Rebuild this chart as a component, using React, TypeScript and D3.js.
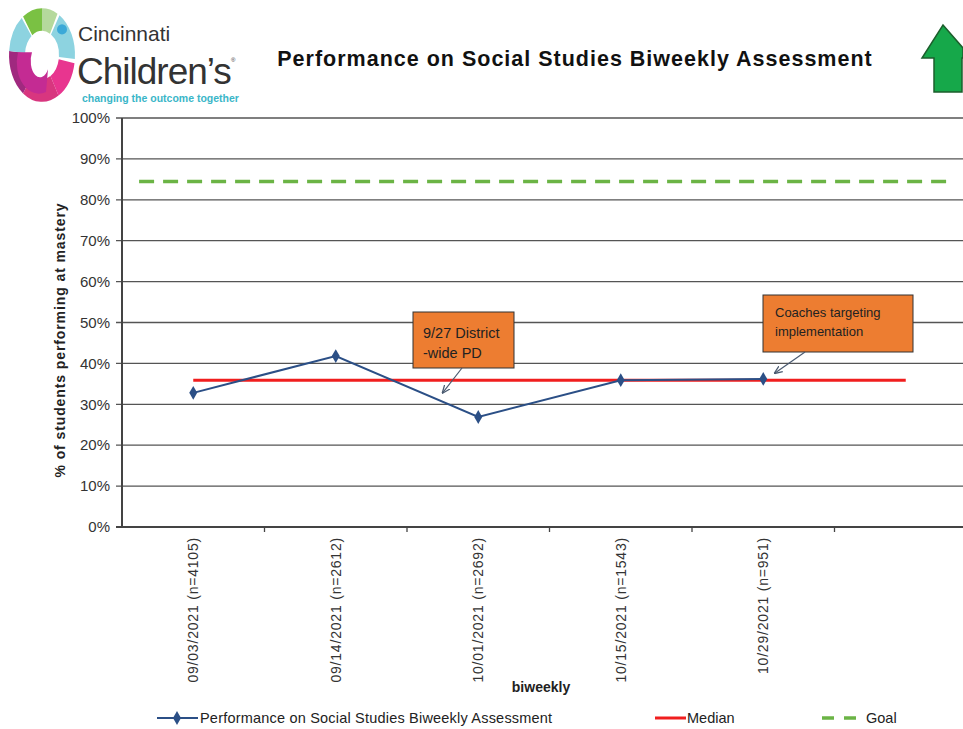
import * as d3 from "d3";

const categories = [
  "09/03/2021 (n=4105)",
  "09/14/2021 (n=2612)",
  "10/01/2021 (n=2692)",
  "10/15/2021 (n=1543)",
  "10/29/2021 (n=951)",
  "",
];
const performance = [32.8, 41.8, 26.9, 35.9, 36.2];
const median = 35.9;
const goal = 84.5;
// median and goal lines span these positions (in category steps from the first one)
const medianSpan = [0, 5];
const goalSpan = [-0.38, 5.34];
const yTicks = [0, 10, 20, 30, 40, 50, 60, 70, 80, 90, 100];
const notes = [
  { lines: ["9/27 District", "-wide PD"], at: 1.75, value: 32.8, box: [413, 312, 101, 56] },
  { lines: ["Coaches targeting", "implementation"], at: 4.08, value: 37.6, box: [763, 295, 150, 57] },
];

const W = 963;
const H = 729;
const marginLeft = 122;
const plotRight = 977;
const plotTop = 118;
const plotBottom = 527;

const navy = "#2B4F86";
const red = "#F01E1E";
const green = "#6BB445";
const orange = "#ED7D31";

// logo ring pieces: [startDeg, endDeg, colour]
const logoPieces: [number, number, string][] = [
  [-35, 0, "#7AC143"],
  [0, 28, "#B5D99C"],
  [32, 95, "#8DD3E0"],
  [100, 150, "#E8358F"],
  [150, 215, "#D8367F"],
  [215, 275, "#A0297F"],
  [275, 322, "#8DD3E0"],
];

export default function App() {
  const x = d3.scaleBand<string>().domain(categories).range([marginLeft, plotRight]);
  const y = d3.scaleLinear().domain([0, 100]).range([plotBottom, plotTop]);
  const cx = (i: number) => (x(categories[0]) as number) + x.bandwidth() / 2 + i * x.step();
  const line = d3.line<number>((d, i) => cx(i), (d) => y(d));
  const diamond = d3.symbol(d3.symbolDiamond, 55)();
  const ring = d3.arc<[number, number, string]>()
    .innerRadius(17)
    .outerRadius(33)
    .startAngle((d) => (d[0] * Math.PI) / 180)
    .endAngle((d) => (d[1] * Math.PI) / 180);

  return (
    <svg width={W} height={H} style={{ position: "absolute", left: 0, top: 0, background: "#fff" }}
      fontFamily="Liberation Sans, Arial, sans-serif">
      {/* logo */}
      <g transform="translate(42,55) scale(1,1.42)">
        {logoPieces.map((p, i) => (
          <path key={i} d={ring(p) as string} fill={p[2]} />
        ))}
        <path d="M-24,-2 A22,22 0 0 0 4,26 L6,10 A8,10 0 0 1 -10,-2 Z" fill="#C42B93" />
        <ellipse cx={20} cy={-18} rx={5} ry={3.6} fill="#3BA9D8" />
      </g>
      <text x={78} y={41} fontSize={21} fill="#333">Cincinnati</text>
      <text x={77} y={84} fontSize={37} fill="#333" letterSpacing={-1}>Children’s</text>
      <text x={231} y={62} fontSize={6} fill="#333">®</text>
      <text x={82} y={102} fontSize={10.5} fontWeight="bold" fill="#3AB6C8">changing the outcome together</text>

      <text x={575} y={66} textAnchor="middle" fontSize={21.5} letterSpacing={1} fontWeight="bold" fill="#111">
        Performance on Social Studies Biweekly  Assessment
      </text>

      {/* up arrow */}
      <path d="M943,25 L963,48 L963,58 L962,58 L962,92 L934,92 L934,58 L922,58 Z"
        fill="#16A84A" stroke="#1C5E2C" strokeWidth={1.5} />

      {/* grid + y axis */}
      {yTicks.map((t) => (
        <g key={t}>
          <line x1={marginLeft - 6} x2={plotRight} y1={y(t)} y2={y(t)}
            stroke={t === 0 ? "#444" : "#555"} strokeWidth={t === 0 ? 2 : 1.3} />
          <text x={110} y={y(t)} dy="0.35em" textAnchor="end" fontSize={15} fill="#333">{t}%</text>
        </g>
      ))}
      <line x1={marginLeft} x2={marginLeft} y1={plotTop} y2={plotBottom} stroke="#444" strokeWidth={2} />
      {categories.slice(1).map((c, i) => (
        <line key={i} x1={x(c) as number} x2={x(c) as number} y1={plotBottom} y2={plotBottom + 5} stroke="#444" strokeWidth={1.3} />
      ))}

      <text transform={`translate(65,340) rotate(-90)`} textAnchor="middle"
        fontSize={14} letterSpacing={0.9} fontWeight="bold" fill="#222">% of students performing at mastery</text>

      {categories.map((c, i) => c && (
        <text key={c} transform={`translate(${cx(i) + 5},${plotBottom + 10}) rotate(-90)`} textAnchor="end"
          fontSize={14} letterSpacing={0.8} fill="#333">{c}</text>
      ))}
      <text x={541} y={692} textAnchor="middle" fontSize={14} fontWeight="bold" fill="#222">biweekly</text>

      {/* goal & median */}
      <line x1={cx(goalSpan[0])} x2={cx(goalSpan[1])} y1={y(goal)} y2={y(goal)}
        stroke={green} strokeWidth={3.5} strokeDasharray="15,9" />
      <line x1={cx(medianSpan[0])} x2={cx(medianSpan[1])} y1={y(median)} y2={y(median)}
        stroke={red} strokeWidth={3} />

      {/* series */}
      <path d={line(performance) as string} fill="none" stroke={navy} strokeWidth={2} />
      {performance.map((v, i) => (
        <path key={i} d={diamond as string} transform={`translate(${cx(i)},${y(v)})`} fill={navy} />
      ))}

      {/* annotations */}
      <defs>
        <marker id="ah" viewBox="0 0 10 10" refX={9} refY={5} markerWidth={7} markerHeight={7} orient="auto">
          <path d="M0,1 L10,5 L0,9" fill="none" stroke="#4a5a70" strokeWidth={1.5} />
        </marker>
      </defs>
      {notes.map((n, k) => {
        const [bx, by, bw, bh] = n.box;
        return (
          <g key={k}>
            <rect x={bx} y={by} width={bw} height={bh} fill={orange} stroke="#333" strokeWidth={1} />
            {n.lines.map((l, j) => (
              <text key={j} x={bx + (k === 0 ? 10 : 12)} y={by + (k === 0 ? 26 : 22) + j * (k === 0 ? 20 : 19)}
                fontSize={k === 0 ? 14.5 : 13} fill="#222">{l}</text>
            ))}
            <line x1={bx + (k === 0 ? 49 : 42)} y1={by + bh} x2={cx(n.at)} y2={y(n.value)}
              stroke="#4a5a70" strokeWidth={1.2} markerEnd="url(#ah)" />
          </g>
        );
      })}

      {/* legend */}
      <g fontSize={14.5} fill="#222">
        <line x1={157} x2={198} y1={718} y2={718} stroke={navy} strokeWidth={2} />
        <path d={diamond as string} transform="translate(177,718)" fill={navy} />
        <text x={200} y={718} dy="0.35em" letterSpacing={0.2}>Performance on Social Studies Biweekly Assessment</text>
        <line x1={655} x2={686} y1={718} y2={718} stroke={red} strokeWidth={3} />
        <text x={687} y={718} dy="0.35em">Median</text>
        <line x1={822} x2={860} y1={718} y2={718} stroke={green} strokeWidth={3.5} strokeDasharray="12,10" />
        <text x={866} y={718} dy="0.35em">Goal</text>
      </g>
    </svg>
  );
}
